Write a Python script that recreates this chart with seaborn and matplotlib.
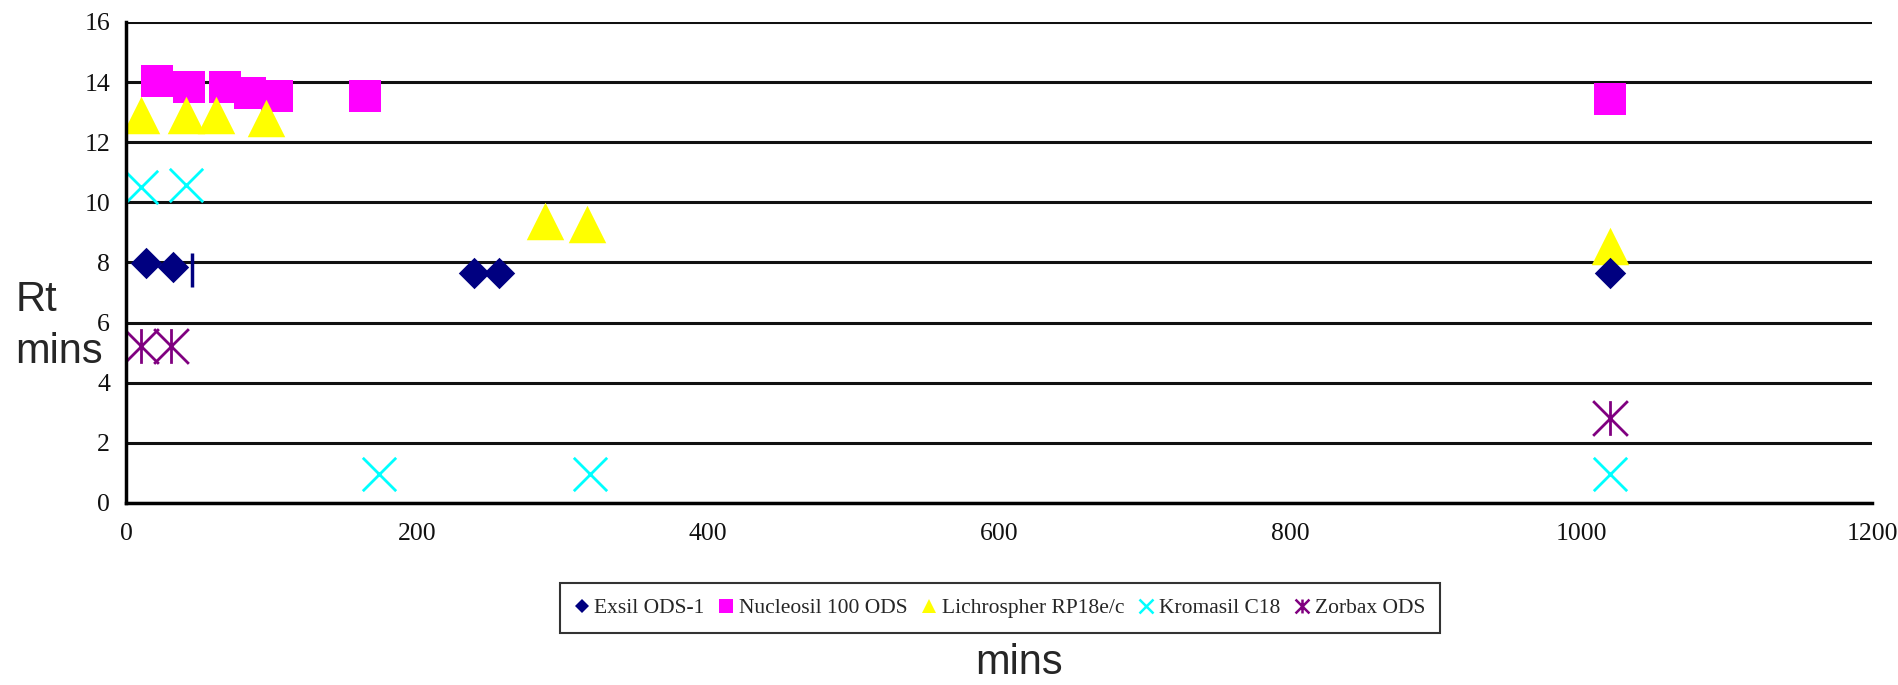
import numpy as np
import matplotlib
matplotlib.use("Agg")
import matplotlib.pyplot as plt
import seaborn as sns
from matplotlib.path import Path
from matplotlib.lines import Line2D

# Retention time data
exsil_x = [14, 32, 239, 256, 1020]
exsil_y = [7.97, 7.84, 7.64, 7.64, 7.64]

nucleosil_x = [21, 43, 68, 85, 104, 164, 1020]
nucleosil_y = [14.02, 13.85, 13.82, 13.65, 13.52, 13.55, 13.45]

lichro_x = [10, 41, 62, 96, 288, 317, 1020]
lichro_y = [12.9, 12.9, 12.9, 12.8, 9.37, 9.27, 8.54]

kromasil_x = [10, 41, 174, 319, 1020]
kromasil_y = [10.5, 10.56, 0.96, 0.96, 0.96]

zorbax_x = [10, 31, 1020]
zorbax_y = [5.22, 5.22, 2.82]

# stray vertical mark next to the Exsil points
bar_x = [45]
bar_y = [7.74]

series_names = ["Exsil ODS-1", "Nucleosil 100 ODS", "Lichrospher RP18e/c",
                "Kromasil C18", "Zorbax ODS"]
x_ticks = [0, 200, 400, 600, 800, 1000, 1200]
y_ticks = [0, 2, 4, 6, 8, 10, 12, 14, 16]

navy = "#000080"
magenta = "#FF00FF"
yellow = "#FFFF00"
cyan = "#00FFFF"
purple = "#800080"

# asterisk marker: x with a vertical line
star = Path([(-0.5, -0.5), (0.5, 0.5), (-0.5, 0.5), (0.5, -0.5), (0, -0.5), (0, 0.5)],
            [Path.MOVETO, Path.LINETO, Path.MOVETO, Path.LINETO, Path.MOVETO, Path.LINETO])

sns.set_style("white")
plt.rcParams["font.family"] = ["Liberation Serif", "DejaVu Serif"]

fig = plt.figure(figsize=(18.98, 6.85), dpi=100)
ax = fig.add_axes([0.0664, 0.2657, 0.92, 0.7023])

sns.scatterplot(x=nucleosil_x, y=nucleosil_y, marker="s", s=23 ** 2, color=magenta,
                edgecolor=magenta, linewidth=0, ax=ax, zorder=3)
sns.scatterplot(x=lichro_x, y=lichro_y, marker="^", s=27 ** 2, color=yellow,
                edgecolor=yellow, linewidth=0, ax=ax, zorder=3)
sns.scatterplot(x=exsil_x, y=exsil_y, marker="D", s=16 ** 2, color=navy,
                edgecolor=navy, linewidth=0, ax=ax, zorder=4)
sns.scatterplot(x=kromasil_x, y=kromasil_y, marker="x", s=24 ** 2, color=cyan,
                linewidth=2, ax=ax, zorder=3)
sns.scatterplot(x=zorbax_x, y=zorbax_y, marker=star, s=25 ** 2, color=purple,
                edgecolor=purple, linewidth=2, ax=ax, zorder=3)
sns.scatterplot(x=bar_x, y=bar_y, marker="|", s=25 ** 2, color=navy,
                linewidth=2.5, ax=ax, zorder=3)

ax.set_xlim(0, 1200)
ax.set_ylim(0, 16)
ax.set_xticks(x_ticks)
ax.set_yticks(y_ticks)
ax.tick_params(axis="both", labelsize=18.5, direction="out", length=4.5, width=2,
               color="black", labelcolor="#111111")
ax.tick_params(axis="x", pad=10)
ax.tick_params(axis="y", pad=7)

ax.yaxis.grid(True, color="#111111", linewidth=2.2)
ax.xaxis.grid(False)
ax.set_axisbelow(True)
for side in ["top", "right"]:
    ax.spines[side].set_visible(False)
for side in ["left", "bottom"]:
    ax.spines[side].set_color("black")
    ax.spines[side].set_linewidth(2.5)
    ax.spines[side].set_zorder(5)

ax.set_xlabel("")
ax.set_ylabel("")
fig.text(0.008, 0.524, "Rt\nmins", fontsize=30, family=["Liberation Sans", "DejaVu Sans"],
         ha="left", va="center", linespacing=1.4)
fig.text(0.537, 0.032, "mins", fontsize=30, family=["Liberation Sans", "DejaVu Sans"],
         ha="center", va="center")

handles = [
    Line2D([], [], linestyle="none", marker="D", markersize=7, color=navy, markeredgewidth=0),
    Line2D([], [], linestyle="none", marker="s", markersize=10, color=magenta, markeredgewidth=0),
    Line2D([], [], linestyle="none", marker="^", markersize=10, color=yellow, markeredgewidth=0),
    Line2D([], [], linestyle="none", marker="x", markersize=10, color=cyan, markeredgewidth=1.8),
    Line2D([], [], linestyle="none", marker=star, markersize=10, color=purple, markeredgewidth=1.8),
]
leg = fig.legend(handles, series_names, loc="center", bbox_to_anchor=(0.527, 0.112),
                 ncol=5, fontsize=15.5, frameon=True, fancybox=False, shadow=False,
                 handlelength=0.6, handletextpad=0.3, columnspacing=0.7,
                 borderpad=0.7, borderaxespad=0)
leg.get_frame().set_edgecolor("black")
leg.get_frame().set_linewidth(1.5)

fig.savefig("out.png", dpi=100)
